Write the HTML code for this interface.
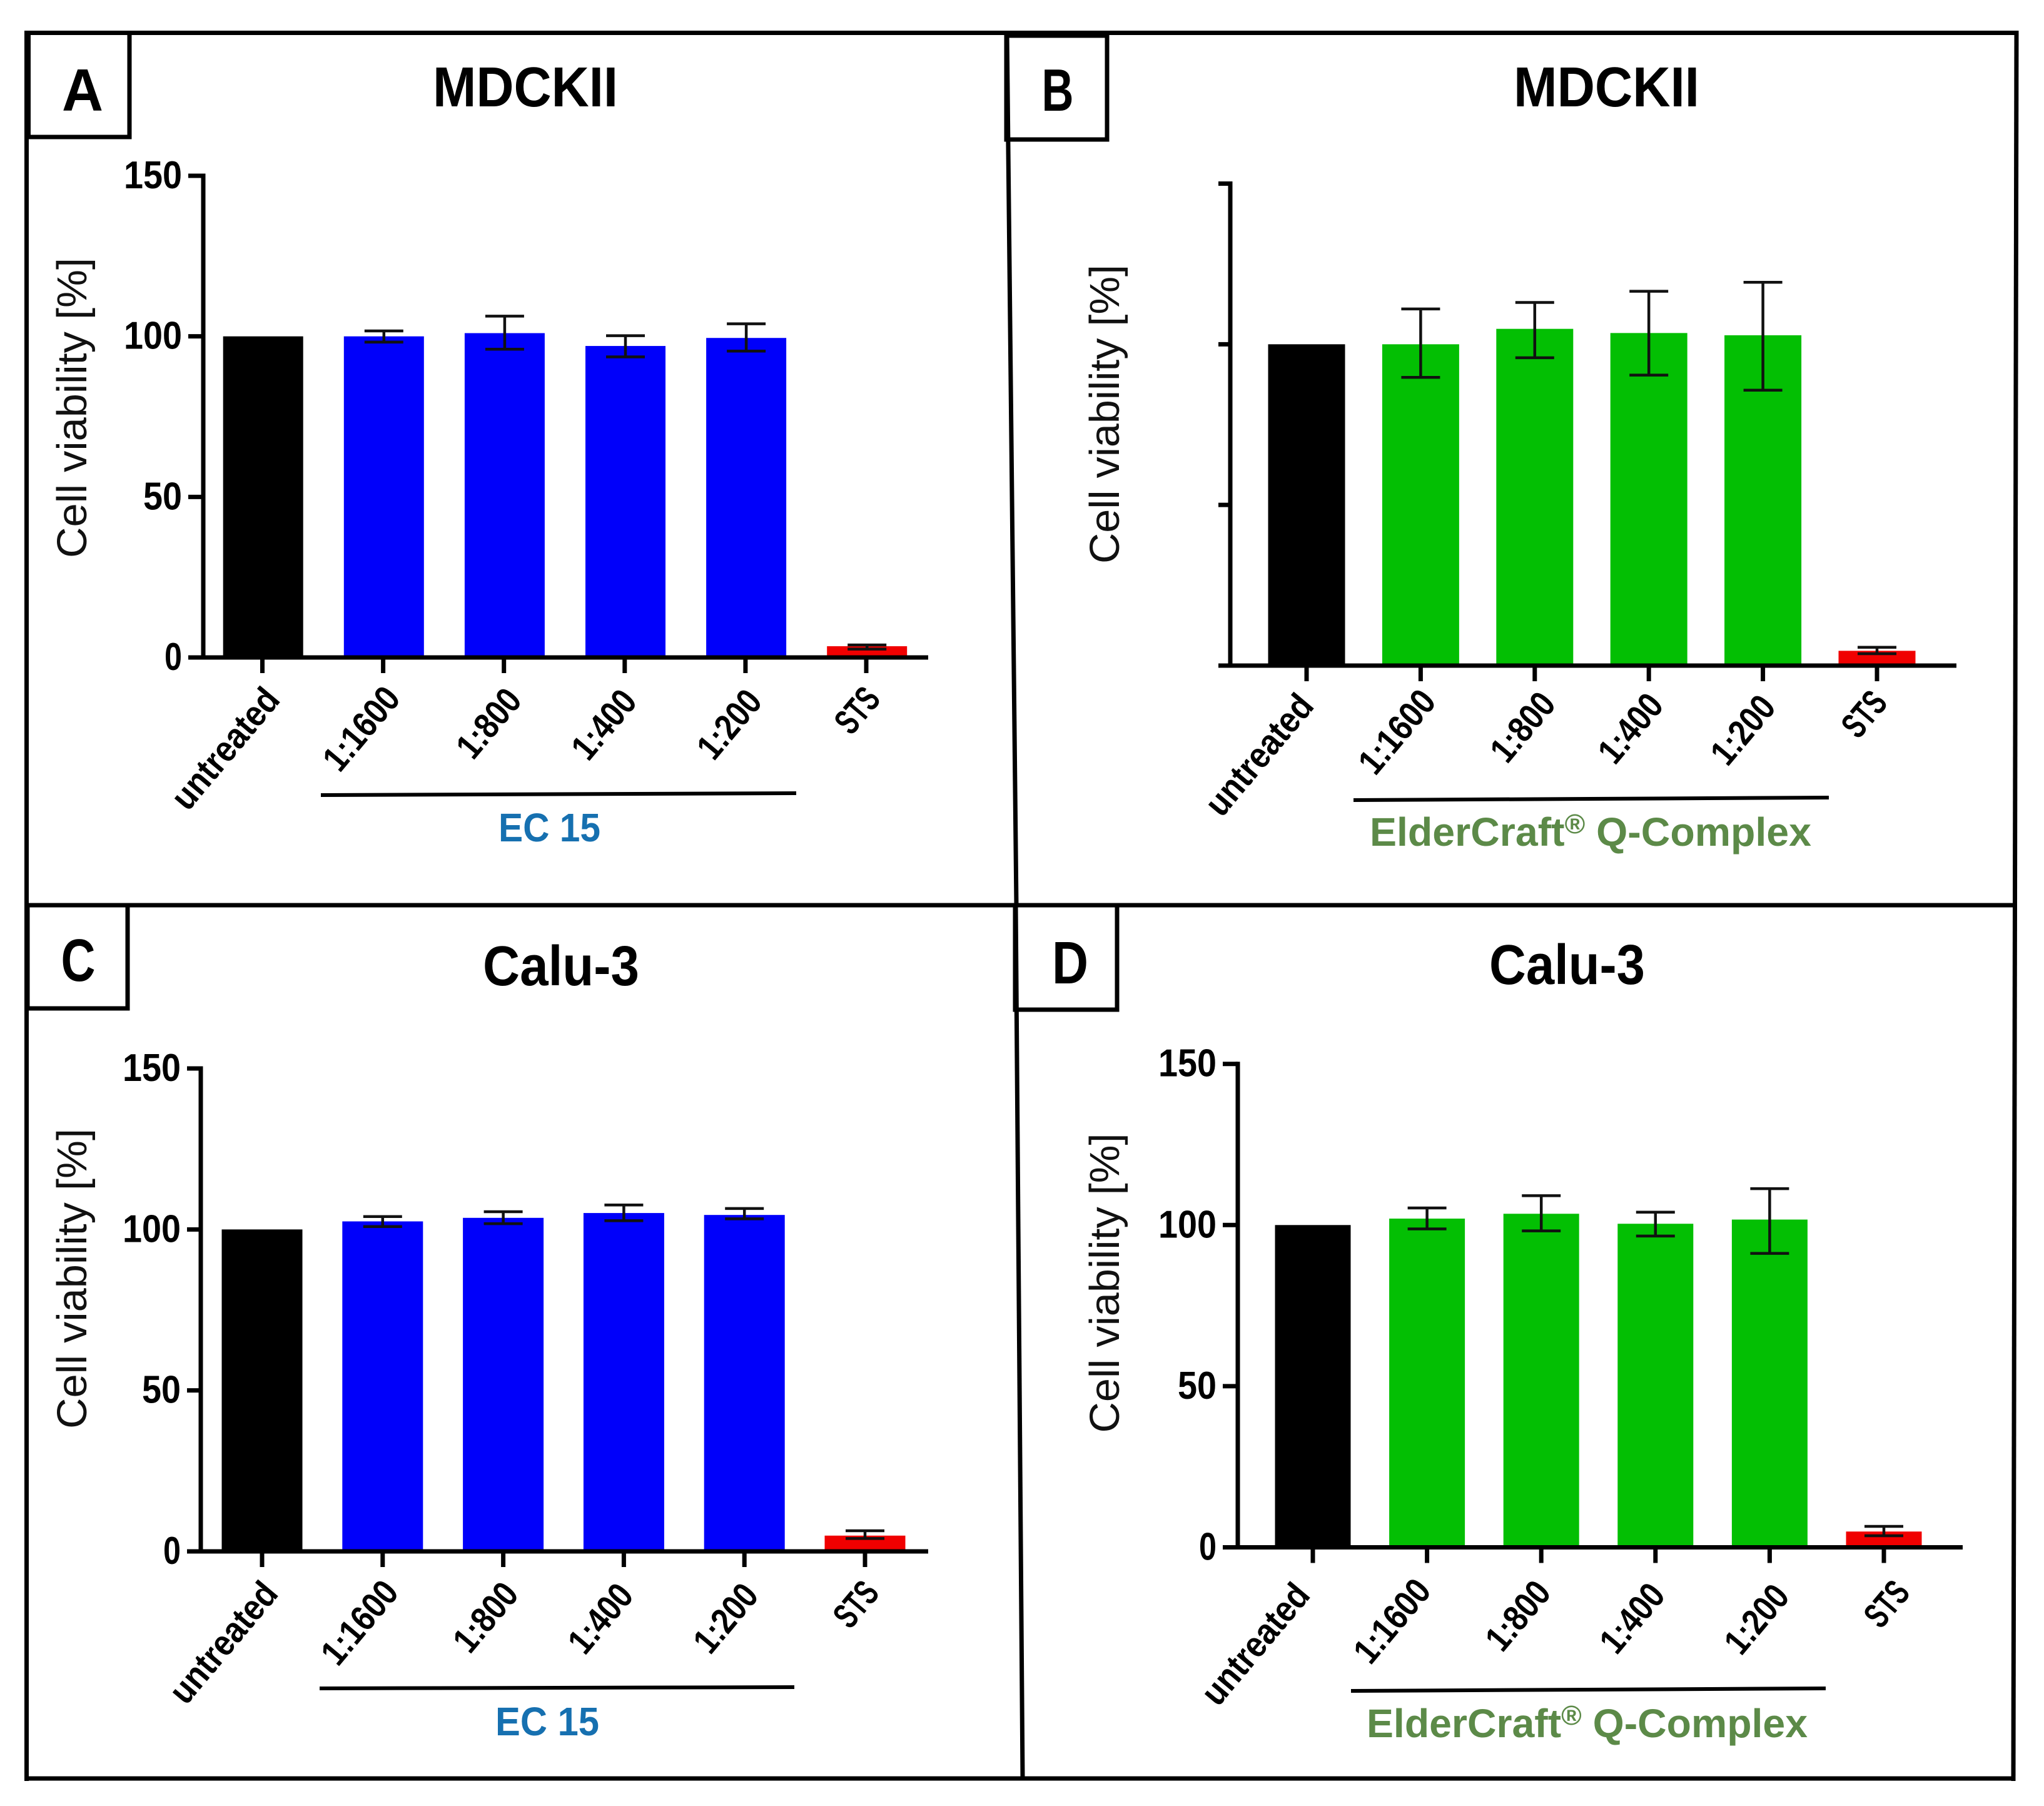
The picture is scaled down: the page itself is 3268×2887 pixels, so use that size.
<!DOCTYPE html>
<html lang="en">
<head>
<meta charset="utf-8">
<title>Cell viability panels</title>
<style>
html,body{margin:0;padding:0;background:#fff;}
svg{display:block;}
text{font-family:"Liberation Sans",sans-serif;fill:#000;}
.frame{stroke:#000;stroke-width:7;fill:none;}
.ec{fill:#1670b0;font-weight:bold;font-size:64px;}
.eq{fill:#5c8a48;font-weight:bold;font-size:64px;}
.yt{font-size:67px;fill:#111;}
.ti{font-size:90px;font-weight:bold;}
.le{font-size:96px;font-weight:bold;text-anchor:middle;}
</style>
</head>
<body>
<svg id="figure" xmlns="http://www.w3.org/2000/svg" width="3268" height="2887" viewBox="0 0 3268 2887">
  <rect width="3268" height="2887" fill="#fff"/>

  <g>
    <line class="frame" x1="39" y1="52.5" x2="3227" y2="52.5"/>
    <line class="frame" x1="3224" y1="49" x2="3219" y2="2847"/>
    <line class="frame" x1="39" y1="2843" x2="3222" y2="2843"/>
    <line class="frame" x1="42.5" y1="49" x2="42.5" y2="2847"/>
    <line class="frame" x1="39" y1="1447" x2="3222" y2="1447"/>
    <line class="frame" x1="1610" y1="52" x2="1625" y2="1447"/>
    <line class="frame" x1="1624" y1="1447" x2="1635" y2="2843"/>
  </g>

  <g>
    <rect class="frame" x="44" y="52.5" width="163" height="166.5"/>
    <rect x="39" y="49" width="10" height="173" fill="#000"/>
    <text class="le" x="132" y="177" textLength="66" lengthAdjust="spacingAndGlyphs">A</text>
    <rect class="frame" x="1609" y="57" width="161" height="166"/>
    <text class="le" x="1691" y="177" textLength="51" lengthAdjust="spacingAndGlyphs">B</text>
    <rect class="frame" x="44" y="1447" width="160" height="165"/>
    <text class="le" x="125" y="1568" textLength="55" lengthAdjust="spacingAndGlyphs">C</text>
    <rect class="frame" x="1623" y="1447" width="163" height="167"/>
    <text class="le" x="1711" y="1572" textLength="58" lengthAdjust="spacingAndGlyphs">D</text>
  </g>

  <text class="ti" x="692" y="170" textLength="296" lengthAdjust="spacingAndGlyphs">MDCKII</text>
  <text class="ti" x="2420" y="170" textLength="297" lengthAdjust="spacingAndGlyphs">MDCKII</text>
  <text class="ti" x="772" y="1575" textLength="250" lengthAdjust="spacingAndGlyphs">Calu-3</text>
  <text class="ti" x="2381" y="1573" textLength="249" lengthAdjust="spacingAndGlyphs">Calu-3</text>

  <text class="yt" text-anchor="middle" transform="translate(138,652) rotate(-90)" textLength="480" lengthAdjust="spacingAndGlyphs">Cell viability [%]</text>
  <text class="yt" text-anchor="middle" transform="translate(1789,662) rotate(-90)" textLength="478" lengthAdjust="spacingAndGlyphs">Cell viability [%]</text>
  <text class="yt" text-anchor="middle" transform="translate(138,2044) rotate(-90)" textLength="480" lengthAdjust="spacingAndGlyphs">Cell viability [%]</text>
  <text class="yt" text-anchor="middle" transform="translate(1789,2051) rotate(-90)" textLength="479" lengthAdjust="spacingAndGlyphs">Cell viability [%]</text>

  <g stroke="#000" stroke-width="6">
    <line x1="513" y1="1271" x2="1273" y2="1268"/>
    <line x1="2164" y1="1279" x2="2924" y2="1275"/>
    <line x1="511" y1="2699" x2="1270" y2="2697"/>
    <line x1="2160" y1="2703" x2="2919" y2="2699"/>
  </g>

  <text class="ec" x="797" y="1345" textLength="163" lengthAdjust="spacingAndGlyphs">EC 15</text>
  <text class="eq" x="2190" y="1352" textLength="706" lengthAdjust="spacingAndGlyphs">ElderCraft<tspan font-size="44" dy="-20">®</tspan><tspan dy="20"> Q-Complex</tspan></text>
  <text class="ec" x="792" y="2774" textLength="166" lengthAdjust="spacingAndGlyphs">EC 15</text>
  <text class="eq" x="2185" y="2777" textLength="705" lengthAdjust="spacingAndGlyphs">ElderCraft<tspan font-size="44" dy="-20">®</tspan><tspan dy="20"> Q-Complex</tspan></text>
</svg>

<script>
// Shared categories and value-axis ticks
const categories = ['untreated', '1:1600', '1:800', '1:400', '1:200', 'STS'];
const yTicks = [0, 50, 100, 150];

// Panel A: MDCKII / EC 15
const panelAValues = [100, 100, 101, 97, 99.5, 3.5];
const panelAHigh = [null, 101.7, 106.3, 100.2, 103.9, 3.9];
const panelALow = [null, 98.2, 96, 93.6, 95.4, 2.6];

// Panel B: MDCKII / ElderCraft Q-Complex
const panelBValues = [100, 100, 104.8, 103.5, 102.8, 4.6];
const panelBHigh = [null, 111, 113, 116.5, 119.3, 5.7];
const panelBLow = [null, 89.7, 95.8, 90.4, 85.7, 3.7];

// Panel C: Calu-3 / EC 15
const panelCValues = [100, 102.5, 103.6, 105.1, 104.5, 4.9];
const panelCHigh = [null, 104, 105.5, 107.6, 106.5, 6.4];
const panelCLow = [null, 100.9, 101.8, 102.7, 103.3, 4];

// Panel D: Calu-3 / ElderCraft Q-Complex
const panelDValues = [100, 102, 103.5, 100.4, 101.7, 4.9];
const panelDHigh = [null, 105.3, 109.1, 104, 111.3, 6.5];
const panelDLow = [null, 98.8, 98.2, 96.6, 91.2, 3.6];

// Layout and styling (not data)
const NS = 'http://www.w3.org/2000/svg';
const figure = document.getElementById('figure');
const BLUE = '#0000fa';
const GREEN = '#03bf03';
const tickLabelWidth = {'150': 93, '100': 93, '50': 62, '0': 28};
const catLabelWidth = {'untreated': 233, '1:1600': 155, '1:800': 125, '1:400': 125, '1:200': 124, 'STS': 76};

const layouts = [
  {id: 'a', values: panelAValues, high: panelAHigh, low: panelALow, color: BLUE, axisX: 325, left: 301, right: 1484, y0: 1051, y150: 281, x0: 419.5, step: 193.1, barW: 128, barDx: 1.2, showLabels: true,
   labelDx: [30.5, 30, 31, 22, 29, 25], labelDy: [69, 67, 70, 72, 72, 68]},
  {id: 'b', values: panelBValues, high: panelBHigh, low: panelBLow, color: GREEN, axisX: 1967, left: 1948, right: 3128, y0: 1064, y150: 293.5, x0: 2089, step: 182.4, barW: 123, barDx: 0, showLabels: false,
   labelDx: [14, 27, 36, 26, 23, 19], labelDy: [66, 59, 63, 65, 68, 61]},
  {id: 'c', values: panelCValues, high: panelCHigh, low: panelCLow, color: BLUE, axisX: 321, left: 299, right: 1484, y0: 2480, y150: 1708, x0: 419, step: 192.8, barW: 129, barDx: 0, showLabels: true,
   labelDx: [28, 28, 27, 18, 25, 25], labelDy: [69, 67, 70, 72, 72, 68]},
  {id: 'd', values: panelDValues, high: panelDHigh, low: panelDLow, color: GREEN, axisX: 1979, left: 1955, right: 3138, y0: 2473.5, y150: 1700.7, x0: 2099, step: 182.6, barW: 121, barDx: 0, showLabels: true,
   labelDx: [-2, 9, 18, 18, 34, 44], labelDy: [78, 71, 74, 78, 80, 74]}
];

function make(tag, attrs, parent) {
  const el = document.createElementNS(NS, tag);
  for (const k in attrs) el.setAttribute(k, attrs[k]);
  parent.appendChild(el);
  return el;
}

function drawPanel(p) {
  const xPos = i => p.x0 + i * p.step;
  const yPos = v => p.y0 - v * (p.y0 - p.y150) / 150;

  const g = make('g', {}, figure);
  
  

  p.values.forEach((v, i) => {
    const fill = i === 0 ? '#000' : (i === 5 ? '#f00000' : p.color);
    const cx = xPos(i) + p.barDx;
    const bar = make('rect', {x: cx - p.barW / 2, y: yPos(v), width: p.barW, height: p.y0 - yPos(v), fill: fill}, g);
    
    
  });

  const yAxis = make('line', {x1: p.axisX, x2: p.axisX, y1: yPos(150) - 3.5, y2: p.y0 + 3, stroke: '#000', 'stroke-width': 7}, g);
  
  

  const xAxis = make('line', {x1: p.left, x2: p.right, y1: p.y0, y2: p.y0, stroke: '#000', 'stroke-width': 7}, g);
  
  

  yTicks.forEach(t => {
    const tick = make('line', {x1: p.left, x2: p.axisX, y1: yPos(t), y2: yPos(t), stroke: '#000', 'stroke-width': 7}, g);
    
    
    if (p.showLabels) {
      const label = make('text', {x: p.left - 10, y: yPos(t) + 20, 'text-anchor': 'end', 'font-size': 62, 'font-weight': 'bold', textLength: tickLabelWidth[t], lengthAdjust: 'spacingAndGlyphs'}, g);
      label.textContent = String(t);
      
      
    }
  });

  categories.forEach((c, i) => {
    const tx = xPos(i);
    const tick = make('line', {x1: tx, x2: tx, y1: p.y0, y2: p.y0 + 25, stroke: '#000', 'stroke-width': 7}, g);
    
    

    const lx = tx + p.labelDx[i];
    const ly = p.y0 + p.labelDy[i];
    const label = make('text', {'text-anchor': 'end', 'font-size': 58, 'font-weight': 'bold', fill: '#111', textLength: catLabelWidth[c], lengthAdjust: 'spacingAndGlyphs', transform: 'translate(' + lx + ',' + ly + ') rotate(-50)'}, g);
    label.textContent = c;
    
    
  });

  p.high.forEach((hi, i) => {
    const lo = p.low[i];
    if (hi === null || lo === null) return;
    const cx = xPos(i) + p.barDx;
    const err = make('path', {
      d: 'M' + (cx - 31) + ' ' + yPos(hi) + 'H' + (cx + 31) +
         'M' + cx + ' ' + yPos(hi) + 'V' + yPos(lo) +
         'M' + (cx - 31) + ' ' + yPos(lo) + 'H' + (cx + 31),
      fill: 'none', stroke: '#111', 'stroke-width': 4.5
    }, g);
    
    
  });
}

layouts.forEach(drawPanel);
</script>
</body>
</html>
